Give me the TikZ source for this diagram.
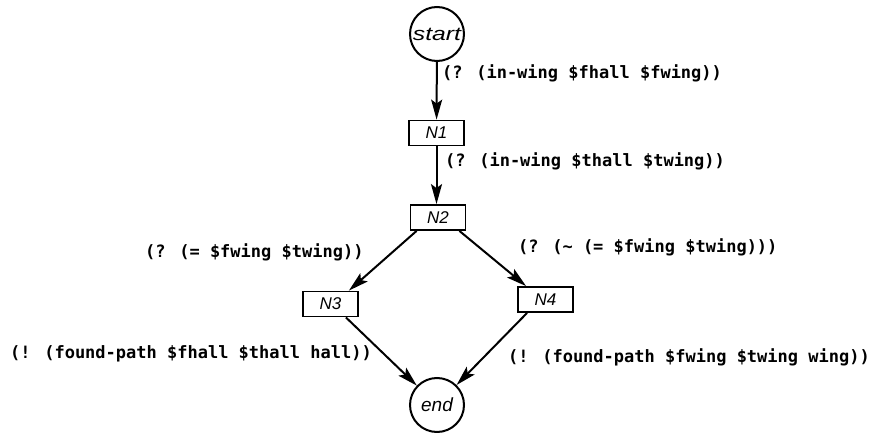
\documentclass[tikz,border=0pt]{standalone}
\usepackage{fontspec}
\setmainfont{DejaVu Sans}
\newfontfamily\labelfont{DejaVu Sans Mono}
\newfontfamily\nodefont{Liberation Sans}
\usetikzlibrary{arrows.meta,calc}
\begin{document}
\begin{tikzpicture}[x=1pt,y=-1pt,
  state/.style={circle,draw,line width=2pt,minimum size=54pt,inner sep=0pt,font=\nodefont\itshape\fontsize{19}{19}\selectfont},
  stepbox/.style={rectangle,draw,line width=1.8pt,minimum width=55pt,minimum height=25pt,inner sep=0pt,font=\nodefont\itshape\fontsize{17}{17}\selectfont},
  cond/.style={anchor=west,inner sep=0pt,font=\labelfont\bfseries\fontsize{17}{17}\selectfont},
  flow/.style={line width=2pt,-{Stealth[length=20pt,width=11pt,inset=4pt]}}]
\useasboundingbox (0,0) rectangle (884,433);
% states and steps
\node[state] (start) at (437,34) {\scalebox{1.3}[1]{start}};
\node[stepbox] (n1) at (436.5,133) {N1};
\node[stepbox] (n2) at (438,217.5) {N2};
\node[stepbox] (n3) at (330.5,304) {N3};
\node[stepbox] (n4) at (545.5,299.5) {N4};
\node[state] (end) at (437,405) {end};
% transitions
\draw[flow] (start) -- (n1);
\draw[flow] (n1.south) -- (n1.south |- n2.north);
\draw[flow] ($(n2.south west)+(7,0)$) -- ($(n3.north east)+(-10,0)$);
\draw[flow] ($(n2.south east)+(-7,0)$) -- ($(n4.north west)+(9,0)$);
\draw[flow] ($(n3.south east)+(-13,0)$) -- (end);
\draw[flow] ($(n4.south west)+(10,0)$) -- (end);
% transition conditions
\node[cond] (c1) at (442,73) {(? (in-wing \$fhall \$fwing))};
\node[cond] (c2) at (445,161) {(? (in-wing \$thall \$twing))};
\node[cond] (c3) at (145,252) {(? (= \$fwing \$twing))};
\node[cond] (c4) at (518,247) {(? (\textasciitilde{} (= \$fwing \$twing)))};
\node[cond] (c5) at (10,354) {(! (found-path \$fhall \$thall hall))};
\node[cond] (c6) at (508,357) {(! (found-path \$fwing \$twing wing))};
\end{tikzpicture}
\end{document}
